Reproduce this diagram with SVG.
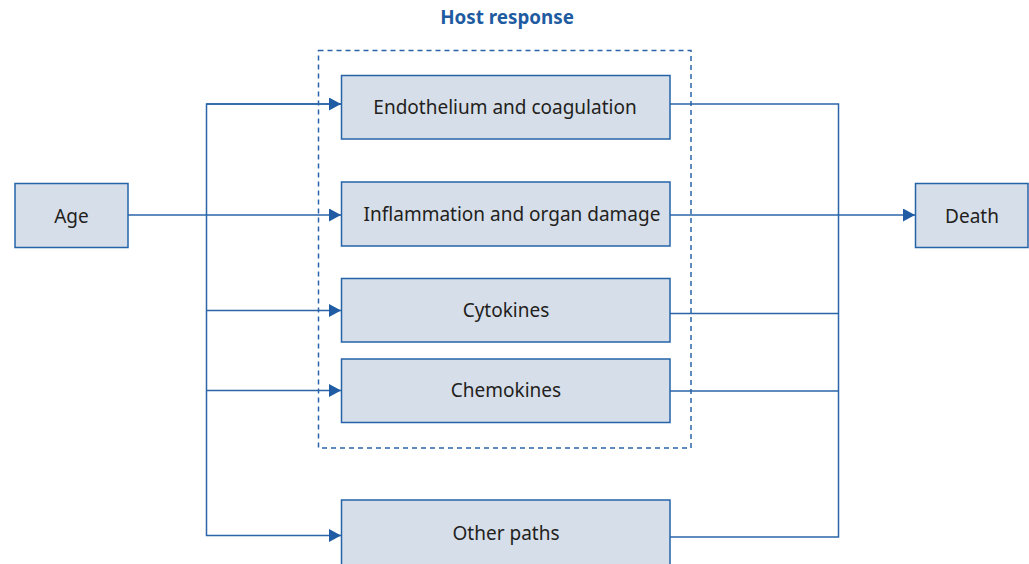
<svg xmlns="http://www.w3.org/2000/svg" width="1029" height="564" viewBox="0 0 1029 564">
<defs>
<style>
.box{fill:#d6deea;stroke:#2563a8;stroke-width:1.5}
.lbl{font-family:"Noto Sans","Liberation Sans",sans-serif;font-size:19px;fill:#231f20;text-anchor:middle;dominant-baseline:central}
.ln{fill:none;stroke:#2b64a8;stroke-width:1.5}
.title{font-family:"Noto Sans","Liberation Sans",sans-serif;font-size:18.8px;font-weight:bold;fill:#1e5ba0;text-anchor:middle}
</style>
<marker id="ah" markerWidth="13" markerHeight="13" refX="12" refY="6.5" orient="auto" markerUnits="userSpaceOnUse">
<path d="M0,0 L12,6.5 L0,13 Z" fill="#1f5ca4"/>
</marker>
</defs>
<rect width="1029" height="564" fill="#ffffff"/>
<g id="host-response">
<text class="title" x="507" y="24">Host response</text>
<rect x="318.5" y="50.5" width="372.5" height="397.5" fill="none" stroke="#2b64a8" stroke-width="1.5" stroke-dasharray="5,4"/>
</g>
<g id="connectors">
<line class="ln" x1="128" y1="215" x2="341" y2="215" marker-end="url(#ah)"/>
<polyline class="ln" points="341,104 206.5,104 206.5,535.5 341,535.5" marker-end="url(#ah)"/>
<line class="ln" x1="206.5" y1="104" x2="341" y2="104" marker-end="url(#ah)"/>
<line class="ln" x1="206.5" y1="310.5" x2="341" y2="310.5" marker-end="url(#ah)"/>
<line class="ln" x1="206.5" y1="390.5" x2="341" y2="390.5" marker-end="url(#ah)"/>
<polyline class="ln" points="670,104 838.5,104 838.5,537 670,537"/>
<line class="ln" x1="670" y1="313.5" x2="838.5" y2="313.5"/>
<line class="ln" x1="670" y1="391" x2="838.5" y2="391"/>
<line class="ln" x1="670" y1="215" x2="915" y2="215" marker-end="url(#ah)"/>
</g>
<g id="age"><rect class="box" x="15" y="183.5" width="113" height="64"/><text class="lbl" x="71.5" y="216">Age</text></g>
<g id="endothelium"><rect class="box" x="341.5" y="75.5" width="328.5" height="63.5"/><text class="lbl" x="505" y="107">Endothelium and coagulation</text></g>
<g id="inflammation"><rect class="box" x="341.5" y="182" width="328.5" height="64"/><text class="lbl" x="512" y="213.5">Inflammation and organ damage</text></g>
<g id="cytokines"><rect class="box" x="341.5" y="278.5" width="328.5" height="63.5"/><text class="lbl" x="506" y="310">Cytokines</text></g>
<g id="chemokines"><rect class="box" x="341.5" y="359" width="328.5" height="63.5"/><text class="lbl" x="506" y="390">Chemokines</text></g>
<g id="other-paths"><rect class="box" x="341.5" y="500" width="328.5" height="70"/><text class="lbl" x="506" y="533">Other paths</text></g>
<g id="death"><rect class="box" x="915.5" y="183.5" width="112.5" height="64"/><text class="lbl" x="972" y="216">Death</text></g>
</svg>
